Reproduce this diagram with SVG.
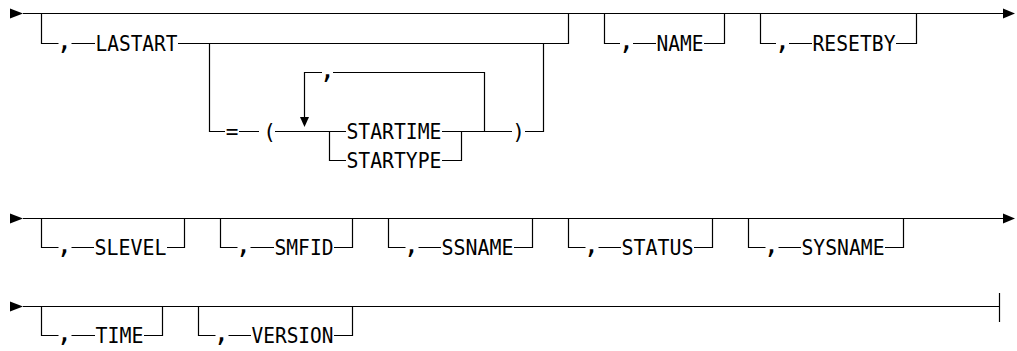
<svg xmlns="http://www.w3.org/2000/svg" width="1017" height="351" viewBox="0 0 1017 351">
<style>
.ln{fill:none;stroke:#000;stroke-width:1.2}
.ah{fill:#000;stroke:none}
text{font-family:"DejaVu Sans Mono","Liberation Mono",monospace;font-size:21px;fill:#000}
.c{text-anchor:middle}
.cm{text-anchor:middle;font-size:27px}
</style>
<rect width="1017" height="351" fill="#fff"/>
<g id="connectors">
<path class="ah" d="M10,8.5 L23,13.5 L10,18.5 Z"/>
<path class="ln" d="M23,13.5 H1004"/>
<path class="ah" d="M1003,8.5 L1015,13.5 L1003,18.5 Z"/>
<path class="ln" d="M41.5,13.5 V43.5 H58.5 M71.5,43.5 H95"/>
<path class="ln" d="M178,43.5 H568.5 V13.5"/>
<path class="ln" d="M209.5,43.5 V131.5 H225 M239,131.5 H259"/>
<path class="ln" d="M275,131.5 H346"/>
<path class="ln" d="M329.5,131.5 V160.5 H346"/>
<path class="ln" d="M442,160.5 H461.5 V131.5"/>
<path class="ln" d="M442,131.5 H512 M525,131.5 H543.5 V43.5"/>
<path class="ln" d="M304.5,118 V72.5 H322 M333,72.5 H484.5 V131.5"/>
<path class="ah" d="M300,117 L309,117 L304.5,127 Z"/>
<path class="ln" d="M604.5,13.5 V43.5 H620 M633,43.5 H656"/>
<path class="ln" d="M704,43.5 H724.5 V13.5"/>
<path class="ln" d="M760.5,13.5 V43.5 H776 M789,43.5 H812"/>
<path class="ln" d="M896,43.5 H916.5 V13.5"/>
<path class="ah" d="M10,213.5 L23,218.5 L10,223.5 Z"/>
<path class="ln" d="M23,218.5 H1004"/>
<path class="ah" d="M1003,213.5 L1015,218.5 L1003,223.5 Z"/>
<path class="ln" d="M41.5,218.5 V247.5 H58.5 M71.5,247.5 H94 M167,247.5 H184.5 V218.5"/>
<path class="ln" d="M220.5,218.5 V247.5 H237.5 M250.5,247.5 H274 M334,247.5 H352.5 V218.5"/>
<path class="ln" d="M388.5,218.5 V247.5 H405.5 M418.5,247.5 H441 M514,247.5 H532.5 V218.5"/>
<path class="ln" d="M568.5,218.5 V247.5 H585.5 M598.5,247.5 H621 M694,247.5 H712.5 V218.5"/>
<path class="ln" d="M748.5,218.5 V247.5 H765.5 M778.5,247.5 H801 M885,247.5 H903.5 V218.5"/>
<path class="ah" d="M10,301.5 L23,306.5 L10,311.5 Z"/>
<path class="ln" d="M23,306.5 H999.5"/>
<path class="ln" d="M999.5,293 V322"/>
<path class="ln" d="M41.5,306.5 V335.5 H58.5 M71.5,335.5 H95 M144,335.5 H162.5 V306.5"/>
<path class="ln" d="M198.5,306.5 V335.5 H215.5 M228.5,335.5 H251 M334,335.5 H352.5 V306.5"/>
</g>
<g id="LASTART">
<text class="cm" x="64.5" y="49">,</text>
<text x="95.5" y="51" textLength="82" lengthAdjust="spacingAndGlyphs">LASTART</text>
</g>
<g id="eq">
<text class="c" x="232" y="139">=</text>
<text class="c" x="269.5" y="139">(</text>
</g>
<g id="loop-comma">
<text class="cm" x="327.5" y="78">,</text>
</g>
<g id="STARTIME">
<text x="346.5" y="139" textLength="95" lengthAdjust="spacingAndGlyphs">STARTIME</text>
</g>
<g id="STARTYPE">
<text x="346.5" y="168" textLength="95" lengthAdjust="spacingAndGlyphs">STARTYPE</text>
</g>
<g id="rparen">
<text class="c" x="518.5" y="139">)</text>
</g>
<g id="NAME">
<text class="cm" x="626.5" y="49">,</text>
<text x="656.5" y="51" textLength="47" lengthAdjust="spacingAndGlyphs">NAME</text>
</g>
<g id="RESETBY">
<text class="cm" x="782.5" y="49">,</text>
<text x="812.5" y="51" textLength="83" lengthAdjust="spacingAndGlyphs">RESETBY</text>
</g>
<g id="SLEVEL">
<text class="cm" x="64.5" y="253">,</text>
<text x="94.5" y="255" textLength="72" lengthAdjust="spacingAndGlyphs">SLEVEL</text>
</g>
<g id="SMFID">
<text class="cm" x="243.5" y="253">,</text>
<text x="274.5" y="255" textLength="59" lengthAdjust="spacingAndGlyphs">SMFID</text>
</g>
<g id="SSNAME">
<text class="cm" x="411.5" y="253">,</text>
<text x="441.5" y="255" textLength="72" lengthAdjust="spacingAndGlyphs">SSNAME</text>
</g>
<g id="STATUS">
<text class="cm" x="591.5" y="253">,</text>
<text x="621.5" y="255" textLength="72" lengthAdjust="spacingAndGlyphs">STATUS</text>
</g>
<g id="SYSNAME">
<text class="cm" x="771.5" y="253">,</text>
<text x="801.5" y="255" textLength="83" lengthAdjust="spacingAndGlyphs">SYSNAME</text>
</g>
<g id="TIME">
<text class="cm" x="64.5" y="341">,</text>
<text x="95.5" y="343" textLength="48" lengthAdjust="spacingAndGlyphs">TIME</text>
</g>
<g id="VERSION">
<text class="cm" x="221.5" y="341">,</text>
<text x="251.5" y="343" textLength="82" lengthAdjust="spacingAndGlyphs">VERSION</text>
</g>
</svg>
